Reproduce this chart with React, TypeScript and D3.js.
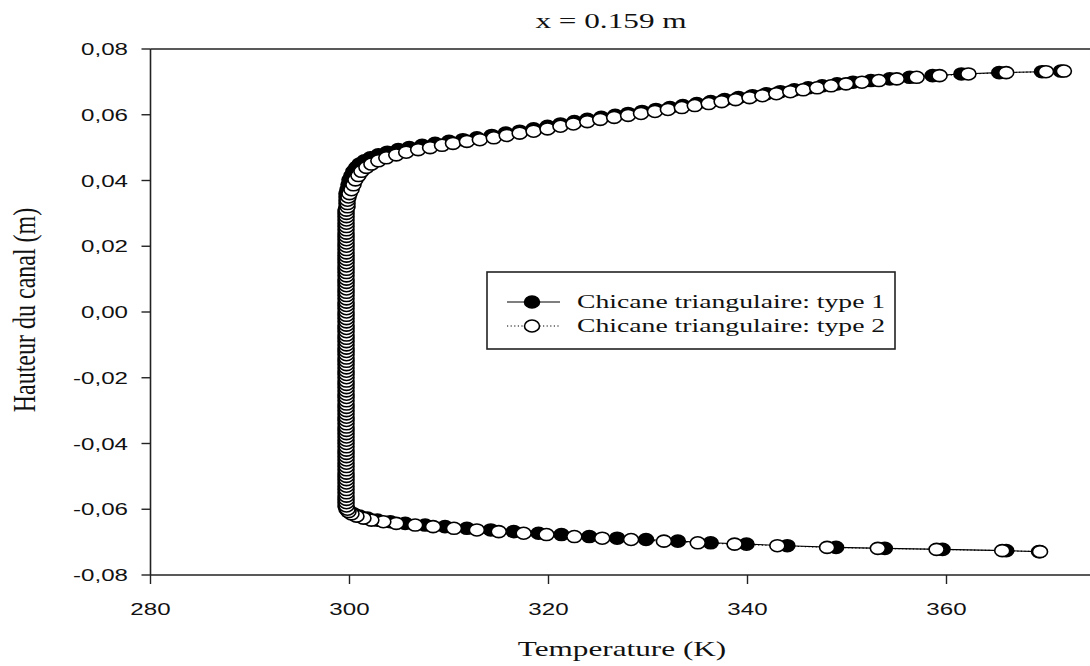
import React from 'react';
import { scaleLinear, line } from 'd3';

const width = 1090;
const height = 666;

// profile near the lower wall (m) with temperatures (K) for both baffle types
const bottomHeights = [
  -0.0729, -0.0726, -0.0722, -0.0719, -0.0716, -0.0711, -0.0706, -0.0702, -0.0697,
  -0.0692, -0.0688, -0.0683, -0.0677, -0.0673, -0.0668, -0.0663, -0.0658, -0.0653,
  -0.0648, -0.0643, -0.0638, -0.0633, -0.0627, -0.0621, -0.0614, -0.0607, -0.0600,
];
const bottomType1 = [
  369.3, 366.0, 359.6, 353.8, 348.9, 344.0, 339.9, 336.3, 333.0,
  329.8, 326.9, 324.1, 321.3, 319.0, 316.5, 314.2, 311.8, 309.6,
  307.6, 305.6, 304.1, 302.8, 301.8, 301.0, 300.4, 299.9, 299.7,
];
const bottomType2 = [
  369.4, 365.6, 359.0, 353.1, 348.0, 343.0, 338.7, 335.0, 331.6,
  328.3, 325.4, 322.6, 319.8, 317.5, 315.0, 312.8, 310.5, 308.4,
  306.6, 304.7, 303.4, 302.2, 301.4, 300.7, 300.2, 299.9, 299.8,
];

// channel core, the flat part of the profile
const coreHeights = [
  -0.059, -0.058, -0.057, -0.056, -0.055, -0.054, -0.053, -0.052, -0.051, -0.050,
  -0.049, -0.048, -0.047, -0.046, -0.045, -0.044, -0.043, -0.042, -0.041, -0.040,
  -0.039, -0.038, -0.037, -0.036, -0.035, -0.034, -0.033, -0.032, -0.031, -0.030,
  -0.029, -0.028, -0.027, -0.026, -0.025, -0.024, -0.023, -0.022, -0.021, -0.020,
  -0.019, -0.018, -0.017, -0.016, -0.015, -0.014, -0.013, -0.012, -0.011, -0.010,
  -0.009, -0.008, -0.007, -0.006, -0.005, -0.004, -0.003, -0.002, -0.001, 0.000,
  0.001, 0.002, 0.003, 0.004, 0.005, 0.006, 0.007, 0.008, 0.009, 0.010,
  0.011, 0.012, 0.013, 0.014, 0.015, 0.016, 0.017, 0.018, 0.019, 0.020,
  0.021, 0.022, 0.023, 0.024, 0.025, 0.026, 0.027, 0.028, 0.029, 0.030,
  0.031, 0.032, 0.033,
];
const coreType1 = [
  299.6, 299.6, 299.6, 299.6, 299.6, 299.6, 299.6, 299.6, 299.6, 299.6,
  299.6, 299.6, 299.6, 299.6, 299.6, 299.6, 299.6, 299.6, 299.6, 299.6,
  299.6, 299.6, 299.6, 299.6, 299.6, 299.6, 299.6, 299.6, 299.6, 299.6,
  299.6, 299.6, 299.6, 299.6, 299.6, 299.6, 299.6, 299.6, 299.6, 299.6,
  299.6, 299.6, 299.6, 299.6, 299.6, 299.6, 299.6, 299.6, 299.6, 299.6,
  299.6, 299.6, 299.6, 299.6, 299.6, 299.6, 299.6, 299.6, 299.6, 299.6,
  299.6, 299.6, 299.6, 299.6, 299.6, 299.6, 299.6, 299.6, 299.6, 299.6,
  299.6, 299.6, 299.6, 299.6, 299.6, 299.6, 299.6, 299.6, 299.6, 299.6,
  299.6, 299.6, 299.6, 299.6, 299.6, 299.6, 299.6, 299.6, 299.6, 299.6,
  299.6, 299.7, 299.7,
];
const coreType2 = [
  299.7, 299.7, 299.7, 299.7, 299.7, 299.7, 299.7, 299.7, 299.7, 299.7,
  299.7, 299.7, 299.7, 299.7, 299.7, 299.7, 299.7, 299.7, 299.7, 299.7,
  299.7, 299.7, 299.7, 299.7, 299.7, 299.7, 299.7, 299.7, 299.7, 299.7,
  299.7, 299.7, 299.7, 299.7, 299.7, 299.7, 299.7, 299.7, 299.7, 299.7,
  299.7, 299.7, 299.7, 299.7, 299.7, 299.7, 299.7, 299.7, 299.7, 299.7,
  299.7, 299.7, 299.7, 299.7, 299.7, 299.7, 299.7, 299.7, 299.7, 299.7,
  299.7, 299.7, 299.7, 299.7, 299.7, 299.7, 299.7, 299.7, 299.7, 299.7,
  299.7, 299.7, 299.7, 299.7, 299.7, 299.7, 299.7, 299.7, 299.7, 299.7,
  299.7, 299.7, 299.7, 299.7, 299.7, 299.7, 299.7, 299.7, 299.7, 299.7,
  299.7, 299.8, 299.8,
];

// profile near the upper wall
const topHeights = [
  0.0340, 0.0350, 0.0360, 0.0372, 0.0387, 0.0402, 0.0415, 0.0428, 0.0440, 0.0450,
  0.0460, 0.0469, 0.0478, 0.0486, 0.0494, 0.0500, 0.0507, 0.0513, 0.0519, 0.0524,
  0.0530, 0.0537, 0.0544, 0.0550, 0.0557, 0.0565, 0.0572, 0.0579, 0.0586, 0.0592,
  0.0598, 0.0604, 0.0610, 0.0616, 0.0622, 0.0628, 0.0634, 0.0640, 0.0646, 0.0652,
  0.0658, 0.0664, 0.0670, 0.0676, 0.0682, 0.0688, 0.0694, 0.0699, 0.0704, 0.0709,
  0.0714, 0.0719, 0.0724, 0.0728, 0.0731, 0.0733,
];
const topType1 = [
  299.7, 299.7, 299.7, 299.8, 299.9, 300.0, 300.2, 300.4, 300.7, 301.0,
  301.5, 302.1, 302.9, 303.8, 304.9, 306.0, 307.3, 308.6, 310.0, 311.4,
  312.8, 314.3, 315.7, 317.1, 318.5, 319.9, 321.2, 322.6, 323.9, 325.3,
  326.7, 328.0, 329.4, 330.8, 332.2, 333.5, 334.9, 336.3, 337.7, 339.1,
  340.5, 341.9, 343.3, 344.7, 346.1, 347.5, 349.0, 350.6, 352.4, 354.3,
  356.3, 358.6, 361.5, 365.3, 369.6, 371.5,
];
const topType2 = [
  299.8, 299.9, 300.0, 300.2, 300.4, 300.6, 300.9, 301.2, 301.7, 302.2,
  302.9, 303.7, 304.7, 305.7, 306.9, 308.1, 309.3, 310.4, 311.8, 313.1,
  314.5, 315.8, 317.1, 318.5, 319.9, 321.2, 322.5, 323.9, 325.2, 326.6,
  328.0, 329.3, 330.7, 332.0, 333.4, 334.7, 336.1, 337.4, 338.8, 340.2,
  341.5, 342.9, 344.3, 345.6, 347.0, 348.4, 349.9, 351.5, 353.2, 355.0,
  357.0, 359.3, 362.2, 366.0, 370.0, 371.8,
];

const xTicks = [280, 300, 320, 340, 360];
const yTicks = [-0.08, -0.06, -0.04, -0.02, 0, 0.02, 0.04, 0.06, 0.08];
const yTickLabels = ['-0,08', '-0,06', '-0,04', '-0,02', '0,00', '0,02', '0,04', '0,06', '0,08'];
const seriesNames = ['Chicane triangulaire: type 1', 'Chicane triangulaire: type 2'];

const heights = [...bottomHeights, ...coreHeights, ...topHeights];
const type1 = [...bottomType1, ...coreType1, ...topType1];
const type2 = [...bottomType2, ...coreType2, ...topType2];

const xScale = scaleLinear().domain([280, 380]).range([150.5, 1145.5]);
const yScale = scaleLinear().domain([-0.08, 0.08]).range([575, 49]);

const serif = '"Liberation Serif", "Times New Roman", serif';
const sans = '"Liberation Sans", Arial, sans-serif';
const sx = 1.42; // the source picture is stretched sideways

const rx = 7.5;
const ry = 6;

type Pt = [number, number];

function Series({ temps, filled, dotted }: { temps: number[]; filled: boolean; dotted: boolean }) {
  const pts: Pt[] = temps.map((t, i) => [t, heights[i]]);
  const path = line<Pt>()
    .x(d => xScale(d[0]))
    .y(d => yScale(d[1]))(pts);
  return (
    <g>
      <path d={path ?? ''} fill="none" stroke="#000" strokeWidth={1.1}
        strokeDasharray={dotted ? '1.2,2.4' : undefined} />
      {pts.map((d, i) => (
        <ellipse key={i} cx={xScale(d[0])} cy={yScale(d[1])} rx={rx} ry={ry}
          fill={filled ? '#000' : '#fff'} stroke="#000" strokeWidth={1.6} />
      ))}
    </g>
  );
}

function Label({ x, y, anchor, size, family, text }:
  { x: number; y: number; anchor: string; size: number; family: string; text: string }) {
  return (
    <text transform={`translate(${x},${y}) scale(${sx},1)`} textAnchor={anchor}
      fontSize={size} fontFamily={family} fill="#111">{text}</text>
  );
}

function App() {
  const x0 = xScale(280);
  const y0 = yScale(-0.08);
  const yTop = yScale(0.08);
  const legendY = [302, 326];

  return (
    <svg width={width} height={height} style={{ position: 'absolute', left: 0, top: 0, background: '#fff' }}>
      <Label x={611} y={28} anchor="middle" size={22} family={serif} text="x = 0.159 m" />

      {/* frame */}
      <line x1={x0} x2={width + 10} y1={yTop} y2={yTop} stroke="#222" strokeWidth={1.6} />
      <line x1={x0} x2={width + 10} y1={y0} y2={y0} stroke="#222" strokeWidth={1.6} />
      <line x1={x0} x2={x0} y1={yTop} y2={y0} stroke="#222" strokeWidth={1.6} />

      {yTicks.map((t, i) => (
        <g key={t}>
          <line x1={x0 - 9} x2={x0} y1={yScale(t)} y2={yScale(t)} stroke="#222" strokeWidth={1.4} />
          <Label x={128} y={yScale(t) + 6} anchor="end" size={17} family={sans} text={yTickLabels[i]} />
        </g>
      ))}
      {xTicks.map(t => (
        <g key={t}>
          <line x1={xScale(t)} x2={xScale(t)} y1={y0} y2={y0 + 9} stroke="#222" strokeWidth={1.4} />
          <Label x={xScale(t)} y={615} anchor="middle" size={17} family={sans} text={String(t)} />
        </g>
      ))}

      <Label x={622} y={656} anchor="middle" size={22} family={serif} text="Temperature (K)" />
      <text transform="translate(35,310) scale(1.3,1) rotate(-90)" textAnchor="middle"
        fontSize={24} fontFamily={serif} fill="#111">Hauteur du canal (m)</text>

      <Series temps={type1} filled dotted={false} />
      <Series temps={type2} filled={false} dotted />

      {/* legend */}
      <rect x={487} y={272} width={408} height={77} fill="#fff" stroke="#222" strokeWidth={1.6} />
      {seriesNames.map((name, i) => (
        <g key={name}>
          <line x1={507} x2={560} y1={legendY[i]} y2={legendY[i]} stroke="#000" strokeWidth={1.1}
            strokeDasharray={i === 1 ? '1.2,2.4' : undefined} />
          <ellipse cx={532} cy={legendY[i]} rx={rx} ry={ry} fill={i === 0 ? '#000' : '#fff'}
            stroke="#000" strokeWidth={1.6} />
          <Label x={577} y={legendY[i] + 6} anchor="start" size={19.5} family={serif} text={name} />
        </g>
      ))}
    </svg>
  );
}

export default App;
